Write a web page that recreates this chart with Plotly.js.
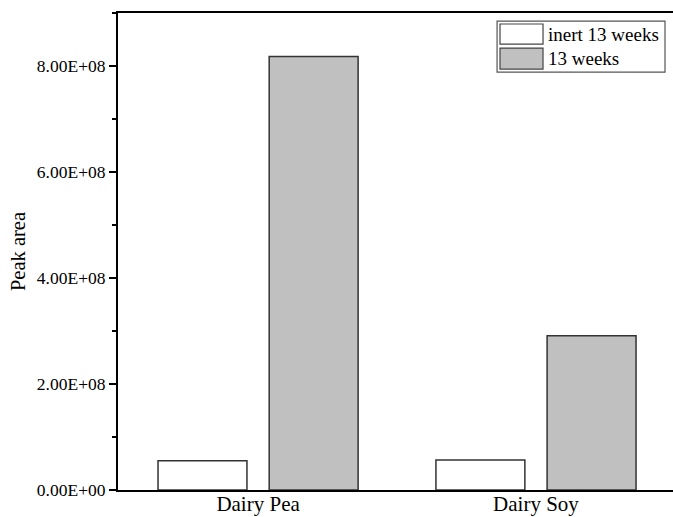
<!DOCTYPE html>
<html>
<head>
<meta charset="utf-8">
<script src="https://cdn.plot.ly/plotly-3.0.1.min.js"></script>
<style>html,body{margin:0;padding:0;background:#fff;}#chart{width:673px;height:517px;}</style>
</head>
<body>
<div id="chart"></div>
<script>
const categories = ["Dairy Pea", "Dairy Soy"];
const seriesNames = ["inert 13 weeks", "13 weeks"];
const inertValues = [5.5e7, 5.65e7];
const weekValues = [8.18e8, 2.91e8];
const yTickVals = [0, 2e8, 4e8, 6e8, 8e8];
const yTickText = ["0.00E+00", "2.00E+08", "4.00E+08", "6.00E+08", "8.00E+08"];

const FONT = "Liberation Serif, Times New Roman, serif";

const traces = [
  {type: "bar", name: seriesNames[0], x: categories, y: inertValues,
   width: 0.32, offset: -0.36,
   marker: {color: "#ffffff", line: {color: "#333333", width: 1.5}}},
  {type: "bar", name: seriesNames[1], x: categories, y: weekValues,
   width: 0.32, offset: 0.04,
   marker: {color: "#c0c0c0", line: {color: "#333333", width: 1.5}}}
];

// custom legend (box, swatches, labels) in paper coordinates
const legBox = {x0: 0.683, x1: 0.9856, y0: 0.876, y1: 0.983};
const swatches = [
  {y0: 0.9349, y1: 0.9769, fill: "#ffffff"},
  {y0: 0.8824, y1: 0.9265, fill: "#c0c0c0"}
];
const shapes = [
  {type: "rect", xref: "paper", yref: "paper", x0: legBox.x0, x1: legBox.x1, y0: legBox.y0, y1: legBox.y1,
   line: {color: "#555555", width: 1.2}, fillcolor: "rgba(0,0,0,0)"}
].concat(swatches.map(s => ({type: "rect", xref: "paper", yref: "paper", x0: 0.6883, x1: 0.7658,
   y0: s.y0, y1: s.y1, line: {color: "#444444", width: 1.2}, fillcolor: s.fill})));
const annotations = seriesNames.map((n, i) => ({
  xref: "paper", yref: "paper", x: 0.772, y: (swatches[i].y0 + swatches[i].y1) / 2,
  xanchor: "left", yanchor: "middle", showarrow: false, text: n,
  font: {family: FONT, size: 19, color: "#000"}
}));

const layout = {
  width: 673, height: 517,
  margin: {l: 118, r: 0, t: 13, b: 27, pad: 0},
  paper_bgcolor: "#ffffff", plot_bgcolor: "#ffffff",
  font: {family: FONT, color: "#000"},
  showlegend: false,
  barmode: "overlay",
  xaxis: {
    type: "category", range: [-0.504, 1.493], showgrid: false, zeroline: false,
    showline: true, linecolor: "#000", linewidth: 2, mirror: true, ticks: "",
    ticklabelstandoff: -6,
    tickfont: {family: FONT, size: 21, color: "#000"}, automargin: false, fixedrange: true
  },
  yaxis: {
    range: [0, 9e8], showgrid: false, zeroline: false,
    showline: true, linecolor: "#000", linewidth: 2,
    ticks: "outside", ticklen: 7, tickwidth: 2, tickcolor: "#000",
    tickvals: yTickVals, ticktext: yTickText,
    tickfont: {family: FONT, size: 17.5, color: "#000"},
    minor: {dtick: 1e8, tick0: 0, ticks: "outside", ticklen: 4, tickwidth: 2, tickcolor: "#000", showgrid: false},
    title: {text: "Peak area", font: {family: FONT, size: 20.5, color: "#000"}, standoff: 6},
    automargin: false, fixedrange: true
  },
  shapes: shapes,
  annotations: annotations
};

Plotly.newPlot("chart", traces, layout, {displayModeBar: false, staticPlot: true});
</script>
</body>
</html>
